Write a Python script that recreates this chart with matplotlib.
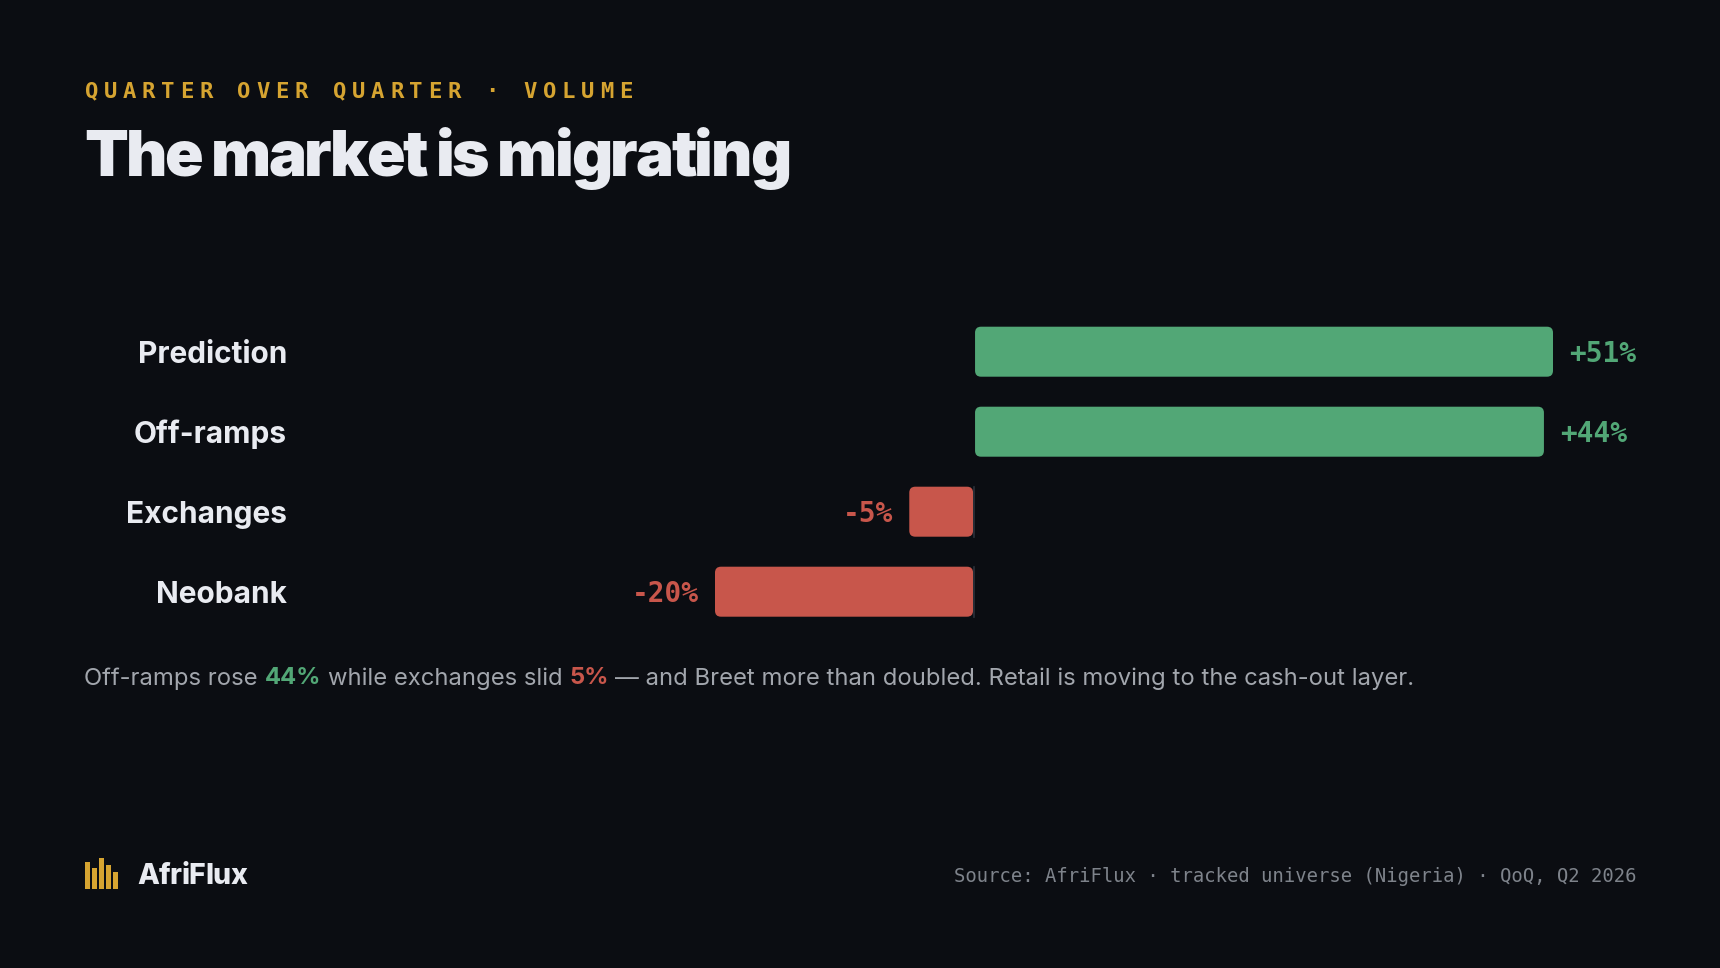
import numpy as np
import matplotlib
matplotlib.use("Agg")
import matplotlib.pyplot as plt
from matplotlib import font_manager
from matplotlib.font_manager import FontProperties
from matplotlib.ft2font import FT2Font
from matplotlib.patches import FancyBboxPatch, Rectangle
from matplotlib.transforms import blended_transform_factory

try:
    from matplotlib.ft2font import Kerning
    KERN = Kerning.DEFAULT
except ImportError:
    KERN = 0

# ---- data ----
categories = ["Prediction", "Off-ramps", "Exchanges", "Neobank"]
changes = [51, 44, -5, -20]
value_labels = ["+51%", "+44%", "-5%", "-20%"]
axis_max = 44.7   # the chart cuts longer bars at this value

kicker = "QUARTER OVER QUARTER · VOLUME"
title = "The market is migrating"
note_parts = [("Off-ramps rose", "text"), ("44%", "up"),
              ("while exchanges slid", "text"), ("5%", "down"),
              ("— and Breet more than doubled. Retail is moving to the cash-out layer.", "text")]
brand = "AfriFlux"
source = "Source: AfriFlux · tracked universe (Nigeria) · QoQ, Q2 2026"
logo_heights = [0.87, 0.67, 1.0, 0.78, 0.54]

# ---- style ----
bg = "#0b0d12"
white = "#e9ebf1"
gold = "#d6a431"
green = "#52a776"
red = "#c8564b"
grey = "#a2a6ad"
dim = "#7e838b"
zero_col = "#2c313a"
sans = ["Inter", "DejaVu Sans"]
mono = ["DejaVu Sans Mono"]

W, H = 1720, 968


def fx(px):
    return px / W


def fy(py):
    return 1 - py / H


fig = plt.figure(figsize=(W / 100, H / 100), dpi=100, facecolor=bg)


def tracked_text(x_px, y_px, s, size, weight, color, width_px):
    # lay the string out glyph by glyph so the letter spacing can be tightened
    fp = FontProperties(family=sans, weight=weight, size=size)
    font = FT2Font(font_manager.findfont(fp))
    font.set_size(size, 100)
    advances, kerns = [], []
    prev = None
    for ch in s:
        idx = font.get_char_index(ord(ch))
        kerns.append(font.get_kerning(prev, idx, KERN) / 64 if prev is not None else 0)
        advances.append(font.load_char(ord(ch)).linearHoriAdvance / 65536)
        prev = idx
    natural = sum(advances) + sum(kerns)
    track = min(0, (width_px - natural) / (len(s) - 1))
    x = x_px
    for ch, adv, kern in zip(s, advances, kerns):
        x += kern
        if ch != " ":
            fig.text(fx(x), fy(y_px), ch, fontproperties=fp, color=color,
                     va="baseline", ha="left")
        x += adv + track


# bar panel, placed in pixels
left_px, right_px = 715, 1553
top_px, bottom_px = 311.7, 631.7
ax = fig.add_axes([fx(left_px), fy(bottom_px), (right_px - left_px) / W,
                   (bottom_px - top_px) / H])
ax.set_facecolor(bg)
ax.set_xlim(min(changes), axis_max)
ax.set_ylim(len(categories) - 0.5, -0.5)
ax.axis("off")

px_per_x = (right_px - left_px) / (axis_max - min(changes))
px_per_y = (bottom_px - top_px) / len(categories)
bar_h = 50 / px_per_y
gap = 1 / px_per_x
radius = 6 / px_per_x

label_tr = blended_transform_factory(fig.transFigure, ax.transData)

for i, (cat, v, lab) in enumerate(zip(categories, changes, value_labels)):
    w = min(v, axis_max)
    col = green if v > 0 else red
    if v > 0:
        x0, width = gap, w - gap
    else:
        x0, width = w, -w - gap
    bar = FancyBboxPatch((x0, i - bar_h / 2), width, bar_h,
                         boxstyle="round,pad=0,rounding_size=%f" % radius,
                         mutation_aspect=px_per_x / px_per_y,
                         fc=col, ec="none")
    ax.add_patch(bar)
    if v < 0:
        ax.plot([0, 0], [i - bar_h / 2, i + bar_h / 2], color=zero_col, lw=1.2)
    off = 11.5 if v > 0 else -11.5
    ax.annotate(lab, (w, i), xytext=(off, -7.3), textcoords="offset points",
                ha="left" if v > 0 else "right", va="baseline",
                color=col, fontsize=20, fontweight="bold", family=mono)
    ax.text(fx(287), i + 11 / px_per_y, cat, transform=label_tr, ha="right",
            va="baseline", color=white, fontsize=21.5, fontweight="bold",
            family=sans)

# ---- header ----
advance = 19.1
for k, ch in enumerate(kicker):
    fig.text(fx(84.5 + k * advance), fy(97.6), ch, color=gold, fontsize=16,
             fontweight="bold", family=mono, va="baseline", ha="left")

tracked_text(84, 175.5, title, 46, 900, white, 707)

# ---- note under the bars, in coloured pieces ----
renderer = fig.canvas.get_renderer()
note_size = 17.15
probe1 = fig.text(0, 0, "aa", fontsize=note_size, family=sans)
probe2 = fig.text(0, 0, "a a", fontsize=note_size, family=sans)
space = (probe2.get_window_extent(renderer).width
         - probe1.get_window_extent(renderer).width)
probe1.remove()
probe2.remove()

x_cur = 84.5
for txt, kind in note_parts:
    col = {"text": grey, "up": green, "down": red}[kind]
    weight = "normal" if kind == "text" else "bold"
    t = fig.text(fx(x_cur), fy(684.5), txt, color=col, fontsize=note_size,
                 fontweight=weight, family=sans, va="baseline", ha="left")
    x_cur += t.get_window_extent(renderer).width + space

# ---- footer ----
bar_w, bar_step, base_y, full_h = 5.2, 7.05, 889, 30.7
for k, hgt in enumerate(logo_heights):
    fig.add_artist(Rectangle((fx(85 + k * bar_step), fy(base_y)), bar_w / W,
                             hgt * full_h / H, transform=fig.transFigure,
                             fc=gold, ec="none"))
tracked_text(137, 884, brand, 20.5, 800, white, 110)
fig.text(fx(1636), fy(881.5), source, color=dim, fontsize=13.55, family=mono,
         va="baseline", ha="right")

fig.savefig("out.png", dpi=100, facecolor=bg)
